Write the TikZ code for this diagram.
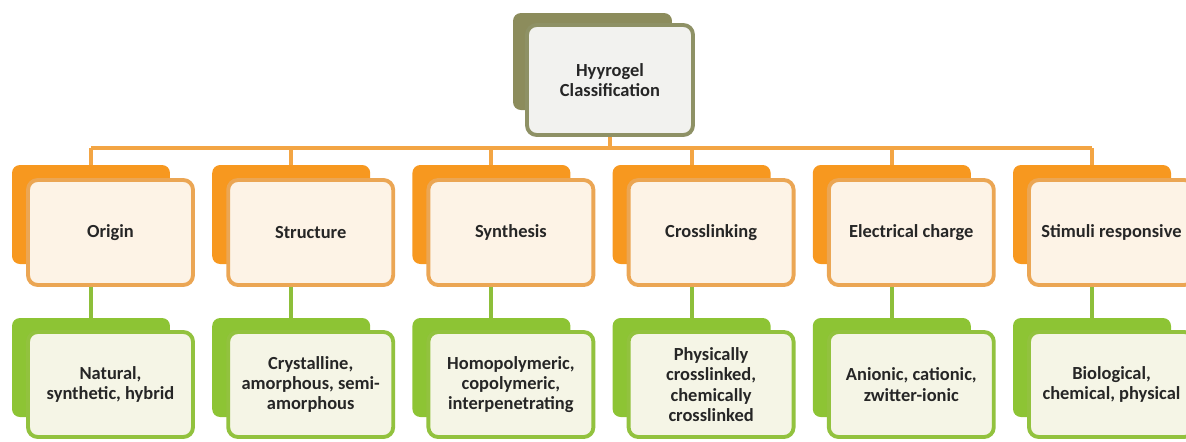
\documentclass[tikz,border=0pt]{standalone}
\usepackage{fontspec}
\setmainfont{Carlito}
\usepackage{tikz}
\usetikzlibrary{positioning,calc}

\definecolor{olvBack}{HTML}{8C8C5C}
\definecolor{olvEdge}{HTML}{8E9165}
\definecolor{olvFill}{HTML}{F2F2EF}
\definecolor{orgBack}{HTML}{F7981F}
\definecolor{orgEdge}{HTML}{EBA654}
\definecolor{orgFill}{HTML}{FDF3E6}
\definecolor{orgLine}{HTML}{F3A544}
\definecolor{grnBack}{HTML}{8DC434}
\definecolor{grnEdge}{HTML}{92C23E}
\definecolor{grnFill}{HTML}{F5F5E6}
\definecolor{grnLine}{HTML}{8DBF3A}
\definecolor{txtGray}{HTML}{262626}

\begin{document}
\begin{tikzpicture}[
    x=0.02cm, y=-0.02cm,
    back/.style={rounded corners=4.5pt, minimum width=3.16cm, minimum height=1.98cm, inner sep=0pt},
    card/.style={rounded corners=5.5pt, line width=2.2pt, minimum width=3.3cm, minimum height=2.1cm, align=center, inner sep=1pt, text=txtGray, font=\bfseries\fontsize{10.5}{11.5}\selectfont},
    rootback/.style={back, fill=olvBack, minimum width=3.18cm, minimum height=1.94cm},
    rootcard/.style={card, draw=olvEdge, fill=olvFill, minimum width=3.32cm, minimum height=2.2cm},
    catback/.style={back, fill=orgBack},
    catcard/.style={card, draw=orgEdge, fill=orgFill},
    typeback/.style={back, fill=grnBack},
    typecard/.style={card, draw=grnEdge, fill=grnFill},
    orgwire/.style={draw=orgLine, line width=2.3pt},
    grnwire/.style={draw=grnLine, line width=2.3pt}
]
\useasboundingbox (0,0) rectangle (1186,441);

% root
\node[rootback] (rootB) at (592.5,61.5) {};
\node[rootcard] (root) at (610,80) {Hyyrogel\\Classification};
\coordinate (bus) at (610,148);

% categories
\node[catback] (catB1) at (91,214.5) {};
\node[catcard] (cat1) at (110.5,232.5) {Origin};
\node[catback] (catB2) at (291.2,214.5) {};
\node[catcard] (cat2) at (310.7,232.5) {Structure};
\node[catback] (catB3) at (491.4,214.5) {};
\node[catcard] (cat3) at (510.9,232.5) {Synthesis};
\node[catback] (catB4) at (691.6,214.5) {};
\node[catcard] (cat4) at (711.1,232.5) {Crosslinking};
\node[catback] (catB5) at (891.8,214.5) {};
\node[catcard] (cat5) at (911.3,232.5) {Electrical charge};
\node[catback] (catB6) at (1092,214.5) {};
\node[catcard] (cat6) at (1111.5,232.5) {Stimuli responsive};

% types
\node[typeback] (typB1) at (91,367.5) {};
\node[typecard] (typ1) at (110.5,384.5) {Natural,\\synthetic, hybrid};
\node[typeback] (typB2) at (291.2,367.5) {};
\node[typecard] (typ2) at (310.7,384.5) {Crystalline,\\amorphous, semi-\\amorphous};
\node[typeback] (typB3) at (491.4,367.5) {};
\node[typecard] (typ3) at (510.9,384.5) {Homopolymeric,\\copolymeric,\\interpenetrating};
\node[typeback] (typB4) at (691.6,367.5) {};
\node[typecard] (typ4) at (711.1,384.5) {Physically\\crosslinked,\\chemically\\crosslinked};
\node[typeback] (typB5) at (891.8,367.5) {};
\node[typecard] (typ5) at (911.3,384.5) {Anionic, cationic,\\zwitter-ionic};
\node[typeback] (typB6) at (1092,367.5) {};
\node[typecard] (typ6) at (1111.5,384.5) {Biological,\\chemical, physical};

% wires
\draw[orgwire] (root.south) -- (bus);
\draw[orgwire] (catB1.north |- bus) -- (catB6.north |- bus);
\draw[orgwire] (catB1.north |- bus) -- (catB1.north);
\draw[orgwire] (catB2.north |- bus) -- (catB2.north);
\draw[orgwire] (catB3.north |- bus) -- (catB3.north);
\draw[orgwire] (catB4.north |- bus) -- (catB4.north);
\draw[orgwire] (catB5.north |- bus) -- (catB5.north);
\draw[orgwire] (catB6.north |- bus) -- (catB6.north);

\draw[grnwire] (catB1.north |- cat1.south) -- (typB1.north);
\draw[grnwire] (catB2.north |- cat2.south) -- (typB2.north);
\draw[grnwire] (catB3.north |- cat3.south) -- (typB3.north);
\draw[grnwire] (catB4.north |- cat4.south) -- (typB4.north);
\draw[grnwire] (catB5.north |- cat5.south) -- (typB5.north);
\draw[grnwire] (catB6.north |- cat6.south) -- (typB6.north);
\end{tikzpicture}
\end{document}
